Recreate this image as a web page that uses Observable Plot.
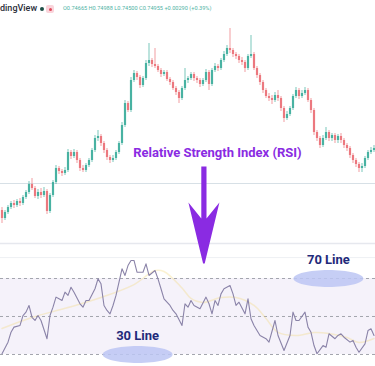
<!DOCTYPE html>
<html><head><meta charset="utf-8">
<script src="https://cdn.jsdelivr.net/npm/d3@7"></script>
<script src="https://cdn.jsdelivr.net/npm/@observablehq/plot@0.6"></script>
<style>
body{margin:0;background:#fff}
#wrap{position:relative;width:375px;height:366px;overflow:hidden;background:#fff;font-family:Roboto,sans-serif}
#toppanel{position:absolute;left:0;top:0;z-index:2}
#bottompanel{position:absolute;left:0;top:245px;z-index:1}
.hd{position:absolute;white-space:nowrap;z-index:3}
</style></head><body>
<div id="wrap">
  <div class="hd" id="logo" style="left:0px;top:3px;font:500 9px Roboto;color:#2a2e39"></div>
  <div class="hd" style="left:40px;top:7px;width:4px;height:4px;border-radius:50%;background:#1d4f46"></div>
  <div class="hd" style="left:46px;top:5px;width:8px;height:8px;border-radius:2px;background:#fad4db"><div style="margin:2.5px;width:3px;height:3px;border-radius:50%;background:#e0495a"></div></div>
  <div class="hd" id="ohlc" style="left:63px;top:5px;font:400 5.6px Roboto;color:#4fb3a5"></div>
  <div id="toppanel"></div><div id="bottompanel"></div>
</div>
<script>
// ---- header text ----
const logoText = "dingView";
const ohlcText = "O0.74665 H0.74988 L0.74500 C0.74955 +0.00290 (+0.39%)";

// ---- candles (price) ----
const opens = [0.7490,0.7482,0.7488,0.7493,0.7497,0.7495,0.7499,0.7497,0.7503,0.7508,
0.7516,0.7512,0.7504,0.7508,0.7505,0.7509,0.7489,0.7505,0.7518,0.7532,
0.7529,0.7527,0.7530,0.7548,0.7544,0.7548,0.7540,0.7532,0.7530,0.7535,
0.7540,0.7550,0.7562,0.7564,0.7557,0.7550,0.7543,0.7540,0.7542,0.7548,
0.7557,0.7575,0.7597,0.7590,0.7620,0.7627,0.7623,0.7615,0.7622,0.7637,
0.7640,0.7636,0.7634,0.7630,0.7626,0.7628,0.7621,0.7618,0.7612,0.7608,
0.7602,0.7612,0.7620,0.7622,0.7626,0.7622,0.7620,0.7616,0.7620,0.7628,
0.7616,0.7630,0.7634,0.7632,0.7640,0.7646,0.7652,0.7650,0.7646,0.7644,
0.7640,0.7638,0.7632,0.7644,0.7646,0.7632,0.7625,0.7618,0.7610,0.7604,
0.7602,0.7600,0.7605,0.7602,0.7592,0.7582,0.7586,0.7592,0.7604,0.7610,
0.7604,0.7607,0.7610,0.7600,0.7590,0.7568,0.7562,0.7555,0.7562,0.7568,
0.7562,0.7565,0.7560,0.7564,0.7560,0.7555,0.7552,0.7545,0.7540,0.7536,
0.7532,0.7534,0.7542,0.7548,0.7550];
const closes = [0.7482,0.7488,0.7493,0.7497,0.7495,0.7499,0.7497,0.7503,0.7508,0.7516,
0.7512,0.7504,0.7508,0.7505,0.7509,0.7489,0.7505,0.7518,0.7532,0.7529,
0.7527,0.7530,0.7548,0.7544,0.7548,0.7540,0.7532,0.7530,0.7535,0.7540,
0.7550,0.7562,0.7564,0.7557,0.7550,0.7543,0.7540,0.7542,0.7548,0.7557,
0.7575,0.7597,0.7590,0.7620,0.7627,0.7623,0.7615,0.7622,0.7637,0.7640,
0.7636,0.7634,0.7630,0.7626,0.7628,0.7621,0.7618,0.7612,0.7608,0.7602,
0.7612,0.7620,0.7622,0.7626,0.7622,0.7620,0.7616,0.7620,0.7628,0.7616,
0.7630,0.7634,0.7632,0.7640,0.7646,0.7652,0.7650,0.7646,0.7644,0.7640,
0.7638,0.7632,0.7644,0.7646,0.7632,0.7625,0.7618,0.7610,0.7604,0.7602,
0.7600,0.7605,0.7602,0.7592,0.7582,0.7586,0.7592,0.7604,0.7610,0.7604,
0.7607,0.7610,0.7600,0.7590,0.7568,0.7562,0.7555,0.7562,0.7568,0.7562,
0.7565,0.7560,0.7564,0.7560,0.7555,0.7552,0.7545,0.7540,0.7536,0.7532,
0.7534,0.7542,0.7548,0.7550,0.7552];
const highs = [0.7493,0.7490,0.7495,0.7499,0.7500,0.7501,0.7502,0.7505,0.7510,0.7519,
0.7522,0.7514,0.7511,0.7512,0.7513,0.7511,0.7507,0.7520,0.7535,0.7534,
0.7531,0.7533,0.7551,0.7550,0.7551,0.7550,0.7542,0.7535,0.7537,0.7542,
0.7552,0.7565,0.7570,0.7566,0.7559,0.7552,0.7545,0.7545,0.7550,0.7559,
0.7578,0.7600,0.7599,0.7623,0.7630,0.7629,0.7625,0.7624,0.7640,0.7657,
0.7642,0.7652,0.7636,0.7632,0.7630,0.7630,0.7623,0.7620,0.7614,0.7610,
0.7614,0.7632,0.7624,0.7628,0.7628,0.7624,0.7622,0.7622,0.7631,0.7630,
0.7632,0.7637,0.7636,0.7642,0.7649,0.7655,0.7672,0.7652,0.7648,0.7646,
0.7643,0.7640,0.7646,0.7665,0.7648,0.7634,0.7627,0.7620,0.7612,0.7607,
0.7605,0.7608,0.7610,0.7604,0.7594,0.7589,0.7594,0.7606,0.7613,0.7612,
0.7610,0.7613,0.7612,0.7602,0.7592,0.7570,0.7564,0.7565,0.7573,0.7570,
0.7567,0.7567,0.7566,0.7567,0.7562,0.7557,0.7554,0.7547,0.7542,0.7538,
0.7537,0.7544,0.7550,0.7553,0.7555];
const lows = [0.7477,0.7480,0.7486,0.7491,0.7492,0.7493,0.7494,0.7495,0.7501,0.7506,
0.7510,0.7502,0.7501,0.7502,0.7503,0.7486,0.7487,0.7503,0.7516,0.7526,
0.7524,0.7525,0.7528,0.7541,0.7542,0.7537,0.7529,0.7528,0.7528,0.7533,
0.7538,0.7548,0.7559,0.7554,0.7547,0.7540,0.7537,0.7538,0.7540,0.7546,
0.7555,0.7573,0.7588,0.7588,0.7618,0.7620,0.7612,0.7613,0.7620,0.7634,
0.7633,0.7632,0.7628,0.7623,0.7624,0.7619,0.7615,0.7610,0.7605,0.7597,
0.7600,0.7610,0.7617,0.7620,0.7619,0.7617,0.7613,0.7614,0.7618,0.7610,
0.7614,0.7628,0.7629,0.7630,0.7638,0.7644,0.7647,0.7643,0.7641,0.7637,
0.7635,0.7628,0.7630,0.7642,0.7630,0.7622,0.7615,0.7607,0.7602,0.7599,
0.7596,0.7598,0.7599,0.7589,0.7578,0.7580,0.7584,0.7590,0.7602,0.7601,
0.7602,0.7605,0.7598,0.7587,0.7565,0.7559,0.7552,0.7553,0.7560,0.7559,
0.7559,0.7557,0.7557,0.7557,0.7552,0.7549,0.7542,0.7537,0.7533,0.7528,
0.7528,0.7532,0.7540,0.7546,0.7548];
const priceLine = [0.7517];
const priceDomain = [0.7455, 0.7700];

// ---- RSI ----
const rsiBars = [0,2,3,4,6,7,8,9,10,11, 12,13,15,16,17,18,19,20,21,22, 23,24,26,27,28,29,31,32,33,34,
 35,36,37,38,39,40,41,42,43,44, 45,47,48,49,51,52,53,54,56,57, 58,60,61,62,63,64,66,68,69,70,
 71,72,73,74,76,77,78,79,81,82, 83,84,86,88,89,91,92,94,96,97, 98,99,101,102,103,104,105,107,108,109,
 111,112,113,114,116,117,118,119,121,122, 123,124];
const rsiValues = [30.4,36.5,41.7,44.4,45.3,50.5,52.3,55.8,49.6,47.9, 50.5,47.9,38.3,50.5,54.9,60.2,59.3,58.4,62.8,61.1,
 65.4,62.8,56.7,54.9,58.4,58.4,64.6,69.8,67.2,55.8, 53.2,51.4,55.8,61.1,68.1,75.1,71.6,76.8,79.5,79.5,
 73.3,73.3,77.7,71.6,74.2,69.8,64.6,59.3,55.8,53.2, 51.4,45.3,56.7,54.9,58.4,55.8,54.1,60.2,56.7,51.4,
 58.4,55.8,61.9,64.6,66.3,61.9,55.8,57.5,51.4,59.3, 48.8,45.3,40,38.3,36.5,47.9,40,32.1,40,52.3,
 47.9,47.9,52.3,44.4,41.7,34.7,30.4,34.7,33.8,40.9, 38.3,40,40.9,39.1,36.5,37.4,33.8,31.2,35.6,42.6,
 43.5,40];
const maBars = [0,10,22,33,44,51,54,60,63,67,73,78,84,88,92,98,104,109,115,119,124];
const maValues = [43.7,49.5,54.7,60,66.8,74.2,73.7,65,59.5,57.4,60,60,55.8,48.9,41.6,40,41.6,41.1,38.9,36.3,38.4];
const levels = [70, 50, 30];
const band = [30, 70];
const rsiDomain = [23.68, 87.37];
const gridRsi = [81];

// ---- annotations ----
const title = [{label: "Relative Strength Index (RSI)", bar: 71.8, price: 0.7548}];
const arrowAt = [{bar: 67.3, price: 0.7497}];
const notes = [{label: "70 Line", bar: 108.8, level: 70}, {label: "30 Line", bar: 45.2, level: 30}];

const N = opens.length;
const candles = opens.map((o, i) => ({bar: i, open: o, close: closes[i], high: highs[i], low: lows[i]}));
const rsi = rsiBars.map((b, i) => ({bar: b, v: rsiValues[i]}));
const ma = maBars.map((b, i) => ({bar: b, v: maValues[i]}));
const UP = "#2aa593", DOWN = "#e8636a", PURPLE = "#8a2be2";
const col = d => d.close >= d.open ? UP : DOWN;

document.getElementById("logo").textContent = logoText;
document.getElementById("ohlc").textContent = ohlcText;

const arrowSymbol = {draw(ctx) {
  const p = [[-2.6,-37],[2.6,-37],[2.6,15],[15.5,-1],[0.8,60],[-0.8,60],[-15.5,-1],[-2.6,15]];
  ctx.moveTo(p[0][0], p[0][1]);
  for (let k = 1; k < p.length; k++) ctx.lineTo(p[k][0], p[k][1]);
  ctx.closePath();
}};
const ellipseSymbol = {draw(ctx) {
  const rx = 35, ry = 8.5, k = 0.5523;
  ctx.moveTo(rx, 0);
  ctx.bezierCurveTo(rx, ry*k, rx*k, ry, 0, ry);
  ctx.bezierCurveTo(-rx*k, ry, -rx, ry*k, -rx, 0);
  ctx.bezierCurveTo(-rx, -ry*k, -rx*k, -ry, 0, -ry);
  ctx.bezierCurveTo(rx*k, -ry, rx, -ry*k, rx, 0);
  ctx.closePath();
}};

const topChart = Plot.plot({
  width: 375, height: 245, margin: 0,
  x: {domain: [-0.5, N - 0.5], axis: null},
  y: {domain: priceDomain, axis: null},
  color: {type: "identity"},
  style: {background: "transparent", overflow: "visible"},
  marks: [
    Plot.ruleY(priceLine, {stroke: "#d7e0e6", strokeWidth: 1}),
    Plot.ruleY([priceDomain[0] + 0.0002], {stroke: "#e6e8ee", strokeWidth: 1.5}),
    Plot.ruleX(candles, {x: "bar", y1: "low", y2: "high", stroke: col, strokeWidth: 0.9, strokeOpacity: 0.7}),
    Plot.ruleX(candles, {x: "bar", y1: "open", y2: "close", stroke: col, strokeWidth: 2.2, strokeOpacity: 0.8}),
    Plot.text(title, {x: "bar", y: "price", text: "label", fill: PURPLE, fontSize: 13, fontWeight: 700, fontFamily: "Roboto"}),
    Plot.dot(arrowAt, {x: "bar", y: "price", symbol: arrowSymbol, fill: PURPLE, stroke: "none", r: 10})
  ]
});
document.getElementById("toppanel").append(topChart);

const bottomChart = Plot.plot({
  width: 375, height: 121, margin: 0,
  x: {domain: [-0.5, N - 0.5], axis: null},
  y: {domain: rsiDomain, axis: null},
  style: {background: "transparent", overflow: "visible"},
  marks: [
    Plot.ruleY(gridRsi, {stroke: "#eef0f3"}),
    Plot.rect([band], {y1: d => d[0], y2: d => d[1], fill: "#7e57c2", fillOpacity: 0.08}),
    Plot.ruleY(levels, {stroke: "#a3a5ae", strokeDasharray: "3,3", strokeWidth: 1}),
    Plot.line(ma, {x: "bar", y: "v", stroke: "#f2d36b", strokeWidth: 1.5, strokeOpacity: 0.3, curve: "catmull-rom"}),
    Plot.line(rsi, {x: "bar", y: "v", stroke: "#8a83a8", strokeWidth: 1.1}),
    Plot.dot(notes, {x: "bar", y: "level", symbol: ellipseSymbol, fill: "#bcc6f3", fillOpacity: 0.85, stroke: "none", r: 10}),
    Plot.text(notes, {x: "bar", y: "level", text: "label", dy: -19, fill: "#1f2a7a", fontSize: 13, fontWeight: 700, fontFamily: "Roboto"})
  ]
});
document.getElementById("bottompanel").append(bottomChart);
</script>
</body></html>
